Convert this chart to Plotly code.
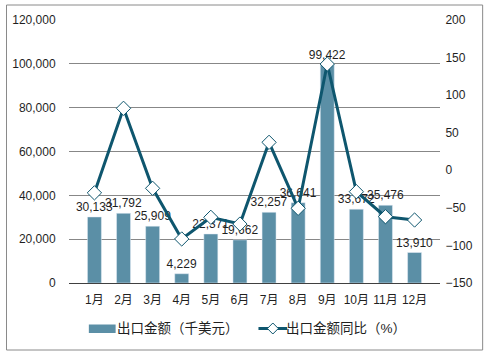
import plotly.graph_objects as go

months = ["1月", "2月", "3月", "4月", "5月", "6月", "7月", "8月", "9月", "10月", "11月", "12月"]
export_value = [30133, 31792, 25909, 4229, 22371, 19662, 32257, 36641, 99422, 33672, 35476, 13910]
yoy_pct = [-30, 82.5, -24, -91.4, -62.6, -71.5, 37.2, -50.6, 141.4, -28.5, -61.8, -66.2]
bar_name = "出口金额（千美元）"
line_name = "出口金额同比（%）"

FONT = "Liberation Sans, Arial, Noto Sans CJK SC, sans-serif"
BAR_C = "#5b8fa6"
LINE_C = "#0e566e"
TXT = "#1f1f1f"

fig = go.Figure()
fig.add_trace(go.Bar(
    x=months, y=export_value, name=bar_name, marker_color=BAR_C,
    text=[f"{v:,}" for v in export_value], textposition="outside",
    constraintext="none", cliponaxis=False,
    textfont=dict(family=FONT, size=12, color=TXT),
    width=0.48, yaxis="y", showlegend=False,
))
fig.add_trace(go.Scatter(
    x=months, y=yoy_pct, name=line_name, mode="lines+markers",
    line=dict(color=LINE_C, width=3),
    marker=dict(symbol="diamond", size=11, color="white", line=dict(color=LINE_C, width=1)),
    yaxis="y2", cliponaxis=False, showlegend=False,
))

L, R, T, B = 66, 51, 20, 69
W, H = 491, 352
pw, ph = W - L - R, H - T - B


def px(x):
    return (x - L) / pw


def py(y):
    return (H - B - y) / ph


fig.update_layout(
    width=W, height=H, margin=dict(l=L, r=R, t=T, b=B),
    paper_bgcolor="white", plot_bgcolor="white",
    font=dict(family=FONT, size=12, color=TXT),
    showlegend=False,
    bargap=0.5,
    xaxis=dict(showgrid=False, showline=True, linecolor="#404040", linewidth=1,
               ticks="outside", ticklen=6, tickcolor="rgba(0,0,0,0)",
               tickfont=dict(family=FONT, size=12, color=TXT)),
    yaxis=dict(range=[0, 120000], tickvals=[0, 20000, 40000, 60000, 80000, 100000, 120000],
               tickformat=",d", showgrid=True, gridcolor="#878787", gridwidth=1,
               zeroline=False, showline=False, ticks="outside", ticklen=10,
               tickcolor="rgba(0,0,0,0)", tickfont=dict(family=FONT, size=12, color=TXT)),
    yaxis2=dict(range=[-150, 200], tickvals=[-150, -100, -50, 0, 50, 100, 150, 200],
                overlaying="y", side="right", showgrid=False, zeroline=False,
                showline=False, ticks="outside", ticklen=2, tickcolor="rgba(0,0,0,0)",
                tickfont=dict(family=FONT, size=12, color=TXT)),
)

# outer border
fig.add_shape(type="rect", xref="paper", yref="paper",
              x0=px(3), x1=px(483), y0=py(350), y1=py(5),
              line=dict(color="#8a8a8a", width=1), fillcolor="rgba(0,0,0,0)", layer="below")

# manual legend
ly = 328.5
fig.add_shape(type="rect", xref="paper", yref="paper",
              x0=px(86), x1=px(113), y0=py(333), y1=py(324.5),
              line=dict(width=0), fillcolor=BAR_C)
fig.add_annotation(xref="paper", yref="paper", x=px(112), y=py(ly), text=bar_name,
                   showarrow=False, xanchor="left", yanchor="middle",
                   font=dict(family=FONT, size=13.5, color=TXT))
fig.add_shape(type="line", xref="paper", yref="paper",
              x0=px(257), x1=px(286), y0=py(ly), y1=py(ly),
              line=dict(color=LINE_C, width=3))
cx, d = 271.5, 5.5
fig.add_shape(type="path", xref="paper", yref="paper",
              path=f"M {px(cx - d)},{py(ly)} L {px(cx)},{py(ly - d)} L {px(cx + d)},{py(ly)} L {px(cx)},{py(ly + d)} Z",
              line=dict(color=LINE_C, width=1), fillcolor="white")
fig.add_annotation(xref="paper", yref="paper", x=px(283), y=py(ly), text=line_name,
                   showarrow=False, xanchor="left", yanchor="middle",
                   font=dict(family=FONT, size=13.5, color=TXT))

fig.write_html("out.html")
